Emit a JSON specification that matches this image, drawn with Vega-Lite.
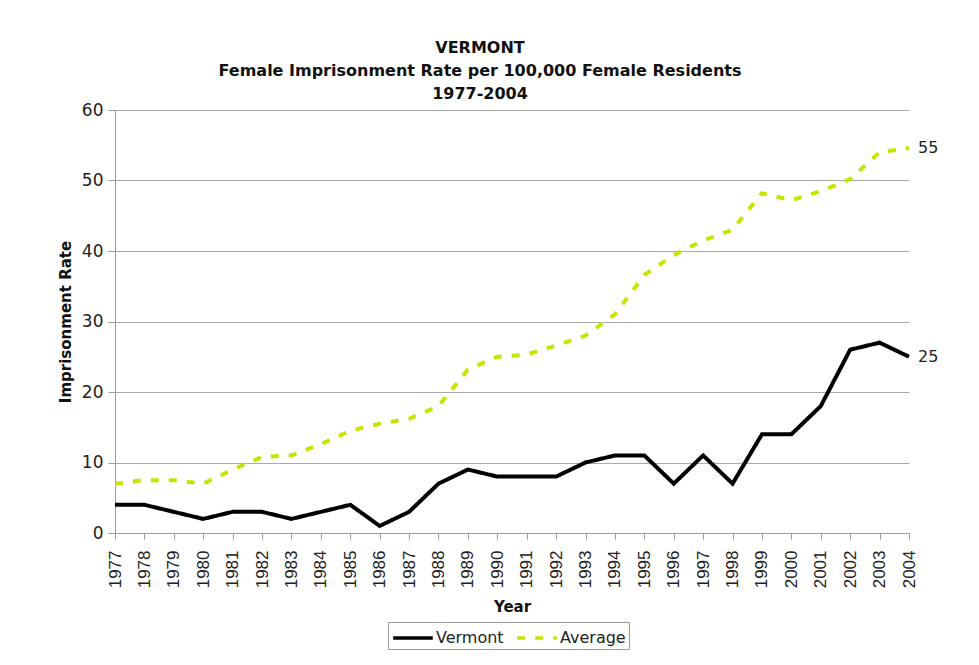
{
  "$schema": "https://vega.github.io/schema/vega-lite/v6.json",
  "width": 794,
  "height": 423,
  "autosize": {"type": "none"},
  "padding": {"left": 115, "top": 110, "right": 70, "bottom": 132},
  "background": "white",
  "title": {
    "text": ["VERMONT", "Female Imprisonment Rate per 100,000 Female Residents", "1977-2004"],
    "font": "DejaVu Sans",
    "fontSize": 16,
    "fontWeight": "bold",
    "color": "#111",
    "lineHeight": 23,
    "anchor": "middle",
    "dx": -32,
    "offset": -1
  },
  "config": {
    "view": {"stroke": null},
    "axis": {"domainColor": "#999", "tickColor": "#999", "gridColor": "#aaa", "labelColor": "#222", "titleColor": "#111"}
  },
  "data": {
    "values": [
      {"year": 1977, "series": "Vermont", "value": 4},
      {"year": 1978, "series": "Vermont", "value": 4},
      {"year": 1979, "series": "Vermont", "value": 3},
      {"year": 1980, "series": "Vermont", "value": 2},
      {"year": 1981, "series": "Vermont", "value": 3},
      {"year": 1982, "series": "Vermont", "value": 3},
      {"year": 1983, "series": "Vermont", "value": 2},
      {"year": 1984, "series": "Vermont", "value": 3},
      {"year": 1985, "series": "Vermont", "value": 4},
      {"year": 1986, "series": "Vermont", "value": 1},
      {"year": 1987, "series": "Vermont", "value": 3},
      {"year": 1988, "series": "Vermont", "value": 7},
      {"year": 1989, "series": "Vermont", "value": 9},
      {"year": 1990, "series": "Vermont", "value": 8},
      {"year": 1991, "series": "Vermont", "value": 8},
      {"year": 1992, "series": "Vermont", "value": 8},
      {"year": 1993, "series": "Vermont", "value": 10},
      {"year": 1994, "series": "Vermont", "value": 11},
      {"year": 1995, "series": "Vermont", "value": 11},
      {"year": 1996, "series": "Vermont", "value": 7},
      {"year": 1997, "series": "Vermont", "value": 11},
      {"year": 1998, "series": "Vermont", "value": 7},
      {"year": 1999, "series": "Vermont", "value": 14},
      {"year": 2000, "series": "Vermont", "value": 14},
      {"year": 2001, "series": "Vermont", "value": 18},
      {"year": 2002, "series": "Vermont", "value": 26},
      {"year": 2003, "series": "Vermont", "value": 27},
      {"year": 2004, "series": "Vermont", "value": 25},
      {"year": 1977, "series": "Average", "value": 7},
      {"year": 1978, "series": "Average", "value": 7.5},
      {"year": 1979, "series": "Average", "value": 7.5},
      {"year": 1980, "series": "Average", "value": 7},
      {"year": 1981, "series": "Average", "value": 9},
      {"year": 1982, "series": "Average", "value": 10.8},
      {"year": 1983, "series": "Average", "value": 11},
      {"year": 1984, "series": "Average", "value": 12.6},
      {"year": 1985, "series": "Average", "value": 14.5},
      {"year": 1986, "series": "Average", "value": 15.5},
      {"year": 1987, "series": "Average", "value": 16.2},
      {"year": 1988, "series": "Average", "value": 18},
      {"year": 1989, "series": "Average", "value": 23.2},
      {"year": 1990, "series": "Average", "value": 25},
      {"year": 1991, "series": "Average", "value": 25.3},
      {"year": 1992, "series": "Average", "value": 26.6},
      {"year": 1993, "series": "Average", "value": 28},
      {"year": 1994, "series": "Average", "value": 31},
      {"year": 1995, "series": "Average", "value": 36.6},
      {"year": 1996, "series": "Average", "value": 39.4},
      {"year": 1997, "series": "Average", "value": 41.5},
      {"year": 1998, "series": "Average", "value": 43},
      {"year": 1999, "series": "Average", "value": 48.2},
      {"year": 2000, "series": "Average", "value": 47.2},
      {"year": 2001, "series": "Average", "value": 48.5},
      {"year": 2002, "series": "Average", "value": 50.2},
      {"year": 2003, "series": "Average", "value": 54},
      {"year": 2004, "series": "Average", "value": 54.6}
    ]
  },
  "encoding": {
    "x": {
      "field": "year",
      "type": "quantitative",
      "scale": {"domain": [1977, 2004], "nice": false, "zero": false},
      "axis": {
        "title": "Year",
        "values": [1977,1978,1979,1980,1981,1982,1983,1984,1985,1986,1987,1988,1989,1990,1991,1992,1993,1994,1995,1996,1997,1998,1999,2000,2001,2002,2003,2004],
        "format": "d",
        "labelAngle": -90,
        "labelFont": "Liberation Sans",
        "labelFontSize": 17,
        "labelPadding": 11,
        "labelOverlap": false,
        "labelBound": false,
        "tickSize": 6,
        "grid": false,
        "titleFont": "DejaVu Sans",
        "titleFontSize": 15,
        "titleFontWeight": "bold",
        "titlePadding": 12
      }
    },
    "y": {
      "field": "value",
      "type": "quantitative",
      "scale": {"domain": [0, 60], "nice": false},
      "axis": {
        "title": "Imprisonment Rate",
        "values": [0, 10, 20, 30, 40, 50, 60],
        "labelFont": "DejaVu Sans",
        "labelFontSize": 17,
        "labelPadding": 5,
        "tickSize": 7,
        "grid": true,
        "titleFont": "DejaVu Sans",
        "titleFontSize": 15,
        "titleFontWeight": "bold",
        "titlePadding": 8
      }
    }
  },
  "layer": [
    {
      "mark": {"type": "line", "strokeWidth": 4, "strokeCap": "butt", "strokeJoin": "miter"},
      "encoding": {
        "color": {
          "field": "series",
          "type": "nominal",
          "scale": {"domain": ["Vermont", "Average"], "range": ["#000000", "#c8e400"]},
          "legend": {
            "title": null,
            "orient": "none",
            "direction": "horizontal",
            "legendX": 273,
            "legendY": 512,
            "strokeColor": "#999",
            "padding": 3,
            "symbolType": "M-1.8,0H1.8",
            "symbolSize": 484,
            "symbolStrokeWidth": 3.5,
            "symbolOffset": 9,
            "labelFont": "DejaVu Sans",
            "labelFontSize": 16,
            "labelColor": "#222",
            "labelOffset": 10,
            "columnPadding": 6
          }
        },
        "strokeDash": {
          "field": "series",
          "type": "nominal",
          "scale": {"domain": ["Vermont", "Average"], "range": [[1, 0], [8, 10]]},
          "legend": {
            "title": null,
            "orient": "none",
            "direction": "horizontal",
            "legendX": 273,
            "legendY": 512,
            "strokeColor": "#999",
            "padding": 3,
            "symbolType": "M-1.8,0H1.8",
            "symbolSize": 484,
            "symbolStrokeWidth": 3.5,
            "symbolOffset": 9,
            "labelFont": "DejaVu Sans",
            "labelFontSize": 16,
            "labelColor": "#222",
            "labelOffset": 10,
            "columnPadding": 6
          }
        }
      }
    },
    {
      "transform": [{"filter": "datum.year == 2004"}],
      "mark": {"type": "text", "align": "left", "baseline": "middle", "dx": 9, "font": "DejaVu Sans", "fontSize": 16, "color": "#222"},
      "encoding": {
        "text": {"field": "value", "type": "quantitative", "format": ".0f"}
      }
    }
  ]
}
